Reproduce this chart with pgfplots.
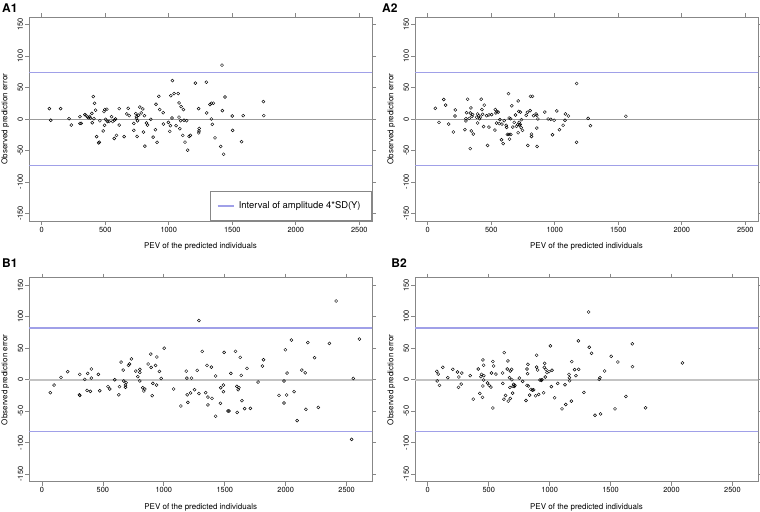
\documentclass[border=0pt]{standalone}
\usepackage{fontspec}
\setmainfont{TeX Gyre Heros}
\usepackage{pgfplots}
\pgfplotsset{compat=1.18}
\usepackage{pgfplotstable}

\definecolor{sdline}{RGB}{160,160,232}
\definecolor{boxgray}{RGB}{135,135,135}
\definecolor{zerogray}{RGB}{155,155,155}
\definecolor{zerolight}{RGB}{195,195,195}

% panel A1
\pgfplotstableread{
x y
60 16.5
71 -2
149 16.5
215 0.5
233 -9.6
301 3.7
301 -7
311 -7
340 7
348 6
361 3
369 2
377 4
382 1.6
395 9
406 35.6
398 -6
411 0.5
416 25
424 14
432 -28
448 -38
453 -37
458 -2.7
484 -19
490 11.7
497 15
495 -10
503 -0.5
513 15.4
518 -4
531 -4
550 3.7
558 -4
571 -31
573 -1.6
581 0
589 -26
610 16.5
610 -9.6
649 -28
670 8
681 17
689 5.3
725 -7
725 -18
741 8.5
746 3.7
746 1
751 -27.7
754 -2.7
762 5.9
772 19
783 9.6
796 16
801 -20.7
809 5.3
812 -43
825 -6.4
833 -9.6
859 -0.5
877 -28.7
895 -17
900 23.4
908 -37
922 36
929 15
956 10
958 -8
997 -5.3
1008 -19.7
1013 -10.6
1016 37
1029 61
1026 1.6
1042 40.4
1058 -10.6
1074 40.4
1081 25.5
1081 3
1087 -15.4
1097 19.7
1094 -2.7
1110 -26
1116 15
1120 -2
1128 -36.7
1141 -2.7
1149 -49.5
1160 -27.7
1170 -26
1210 57
1235 16.5
1240 -15
1238 -19
1236 -22
1296 58.5
1299 9.6
1325 23
1336 25
1351 25
1336 0
1343 -8.5
1364 -30
1409 -43.6
1419 85.6
1422 13.3
1432 -56
1443 35
1500 4.8
1503 -18
1573 -36
1586 5.3
1745 27.7
1748 5.3
}\dataAone

% panel A2
\pgfplotstableread{
x y
60 17
89 -5.3
126 31
141 22
165 -8
202 -20.7
217 14.4
215 4.8
293 -17
301 -3
314 31.4
306 10
301 0.5
327 1
340 17.6
335 9.6
335 -47
343 -19
359 -24
348 4.3
353 7
385 2.7
393 8
393 -6.4
401 5.3
408 0.5
414 3
421 31.4
427 15
432 7.4
440 -12
445 22
463 5.3
471 -42
482 -12.8
482 6.4
503 7
529 -17.6
532 15
537 9.6
545 11.7
542 -6.4
555 11
563 -7.4
568 -1
581 -33
584 -8
594 -39
602 -2.7
618 -10
621 -13.3
628 -24.5
636 40.4
639 -24.5
641 1.6
644 -32
654 -24.5
652 0.5
662 21
670 -12.8
681 -5.3
691 6.4
699 -11.7
712 28.7
709 -9
712 -21.8
717 12
720 -5.3
723 -9.6
728 -8.5
730 11
736 -13.8
738 -1
746 -18
775 5.9
785 10.6
788 -42
806 13.3
809 36
825 36
817 -24
817 -27.7
833 5.3
853 8
859 5.9
859 -14.4
861 -43.6
867 0
922 11
948 0
969 -0.5
982 -25
995 -2
1016 12.8
1037 -17
1066 -10
1081 -2
1084 8
1107 4.8
1172 56.4
1172 -37
1263 1
1281 -10.6
1560 4.3
}\dataAtwo

% panel B1
\pgfplotstableread{
x y
68 -20.6
99 -8.5
156 3.7
211 12.7
307 -24
310 -25
310 8.5
351 0.5
370 -17
375 10
397 -18.5
405 17
405 2.6
463 8.5
474 -17.5
542 -11
556 -14.8
597 0
630 -24
636 -11
649 28
666 15.3
671 -2
685 -8.5
685 -12
690 -4.8
710 22.7
718 25
734 33
770 13.7
786 4.8
803 16.4
803 11.6
803 -2
827 -12.7
836 -18
844 -14.8
871 25
893 40.7
896 19.6
904 -25.4
910 -5.8
932 22.7
943 36
940 -8.5
964 13.2
978 2
1003 50
1080 -14.8
1140 -41.8
1184 13.7
1189 2.6
1192 -24
1197 -36
1219 -21
1227 2.6
1252 -15.9
1274 14.8
1288 94
1288 -22
1315 45
1354 22.7
1390 20
1343 -20.6
1362 -27.5
1362 -40
1395 -29.6
1425 5.8
1425 -58
1464 -37.5
1467 -12.7
1489 -8.5
1495 43.4
1489 -19
1527 -49.7
1535 -49.7
1550 10
1588 45
1599 -10.6
1602 -52
1610 -15.9
1616 -12.7
1627 35.4
1635 6.9
1641 -33.3
1663 -46
1682 18
1710 -45.5
1773 -3.7
1809 21.7
1818 31.7
1945 -24.9
1986 -2
1986 -37
1997 47.6
2011 10.6
2008 -24.3
2047 63
2069 -19
2094 -65
2132 15.3
2160 11
2166 -47
2182 59
2237 35
2268 -44
2359 57.7
2414 125
2555 2
2541 -94.7
2605 64.5
}\dataBone

% panel B2
\pgfplotstableread{
x y
74 13.3
85 9
77 -2
96 -9
123 19.7
164 3.2
205 16.5
244 12.2
255 4.3
252 -12.2
279 10.6
274 -7
348 6.4
373 -30.9
414 17
427 -21.8
436 4.8
441 8.5
449 -28
452 31.4
458 23
452 -10
458 -0.5
460 6.4
490 -5.3
504 -9
518 -11.7
523 10.6
534 29
534 -45
540 21.8
559 9
614 10.6
616 -5.9
625 -30.9
627 43
638 -25
652 17
658 29.8
660 -34
671 3.2
674 -12.2
677 13.8
677 -29.8
688 16.5
690 0
696 -21.3
699 -10.6
704 -7.4
710 -10.6
715 -9
751 2.7
778 -2.7
806 -33
814 17
814 -9
819 9.6
822 24.5
825 -10
836 -24.5
847 -15.4
858 -16.5
869 -16
885 -25.5
893 38.8
893 20
901 15.4
910 -23.4
921 -0.5
932 -1
937 0
951 -20.7
956 19.7
959 26
964 4.3
970 16
978 11.2
995 12.8
1006 53.7
1014 -11
1019 15
1041 -28.7
1066 -5.9
1101 -46.3
1126 -8
1132 -39.4
1159 8.5
1162 3.2
1164 -1.6
1178 -34
1181 28.7
1205 16
1216 6.4
1236 61.7
1238 16.5
1320 107.5
1325 51.6
1344 42
1281 -20.2
1372 -56.4
1418 -54.3
1407 0.5
1413 3.2
1451 13.8
1505 37.2
1536 -46.3
1560 28.2
1626 -26.6
1678 57
1680 20.7
1787 -44.7
2090 26.6
}\dataBtwo

\pgfplotsset{
  panel/.style={
    scale only axis,
    width=171.5pt, height=102pt,
    anchor=south west,
    ymin=-162, ymax=162,
    xtick={0,500,...,2500},
    ytick={-150,-100,...,150},
    minor tick num=0,
    tick align=outside,
    major tick length=2pt,
    axis line style={boxgray, line width=0.4pt},
    tick style={boxgray, line width=0.4pt},
    /pgf/number format/assume math mode=true,
    /pgf/number format/set thousands separator={},
    tick label style={font=\fontsize{3.7}{4.4}\selectfont, inner sep=0.8pt},
    yticklabel style={rotate=90, anchor=south},
    label style={font=\fontsize{4}{4.8}\selectfont, inner sep=0pt},
    xlabel={PEV of the predicted individuals},
    ylabel={Observed prediction error},
    xlabel style={at={([yshift=-10.8pt]axis description cs:0.5,0)}, anchor=north},
    ylabel style={at={([xshift=-9.8pt]axis description cs:0,0.5)}, rotate=0, anchor=south},
  },
  zl/.style={draw=zerogray, line width=0.4pt, mark=none, forget plot},
  zlb/.style={draw=zerolight, line width=0.8pt, mark=none, forget plot},
  sd/.style={draw=sdline, line width=0.65pt, mark=none},
  pts/.style={only marks, mark=o, mark size=0.75pt, draw=black, mark options={draw=black, line width=0.22pt}, forget plot},
}

\begin{document}
\begin{tikzpicture}
\useasboundingbox (0,0) rectangle (380pt,255.5pt);

\node[anchor=base west, inner sep=0pt, font=\fontsize{6}{7}\selectfont\bfseries] at (0.85pt,249.15pt) {A1};
\node[anchor=base west, inner sep=0pt, font=\fontsize{6}{7}\selectfont\bfseries] at (190.85pt,249.15pt) {A2};
\node[anchor=base west, inner sep=0pt, font=\fontsize{6}{7}\selectfont\bfseries] at (0.85pt,121.65pt) {B1};
\node[anchor=base west, inner sep=0pt, font=\fontsize{6}{7}\selectfont\bfseries] at (195.5pt,121.65pt) {B2};

\begin{axis}[panel, at={(14.5pt,145pt)}, xmin=-100, xmax=2600,
  legend style={at={(1,0)}, anchor=south east, draw=boxgray, line width=0.4pt,
    font=\fontsize{4.7}{5.6}\selectfont, inner xsep=3.5pt, inner ysep=2.8pt,
    legend cell align=left},
  legend image code/.code={\draw[#1] (0pt,0pt) -- (8.3pt,0pt);}]
\addplot[zl] coordinates {(-500,0) (3000,0)};
\addplot[sd, forget plot] coordinates {(-500,-73.5) (3000,-73.5)};
\addplot[sd] coordinates {(-500,73.5) (3000,73.5)};
\addlegendentry{Interval of amplitude 4*SD(Y)}
\addplot[pts] table[x=x, y=y] {\dataAone};
\end{axis}

\begin{axis}[panel, at={(207.5pt,145pt)}, xmin=-100, xmax=2600]
\addplot[zl] coordinates {(-500,0) (3000,0)};
\addplot[sd] coordinates {(-500,-73.5) (3000,-73.5)};
\addplot[sd] coordinates {(-500,73.5) (3000,73.5)};
\addplot[pts] table[x=x, y=y] {\dataAtwo};
\end{axis}

\begin{axis}[panel, at={(14.6pt,14.65pt)}, xmin=-105, xmax=2710]
\addplot[zlb] coordinates {(-500,0) (3000,0)};
\addplot[sd] coordinates {(-500,-82) (3000,-82)};
\addplot[sd] coordinates {(-500,82) (3000,82)};
\addplot[pts] table[x=x, y=y] {\dataBone};
\end{axis}

\begin{axis}[panel, at={(207.5pt,14.65pt)}, xmin=-105, xmax=2710]
\addplot[zlb] coordinates {(-500,0) (3000,0)};
\addplot[sd] coordinates {(-500,-82) (3000,-82)};
\addplot[sd] coordinates {(-500,82) (3000,82)};
\addplot[pts] table[x=x, y=y] {\dataBtwo};
\end{axis}
\end{tikzpicture}
\end{document}
